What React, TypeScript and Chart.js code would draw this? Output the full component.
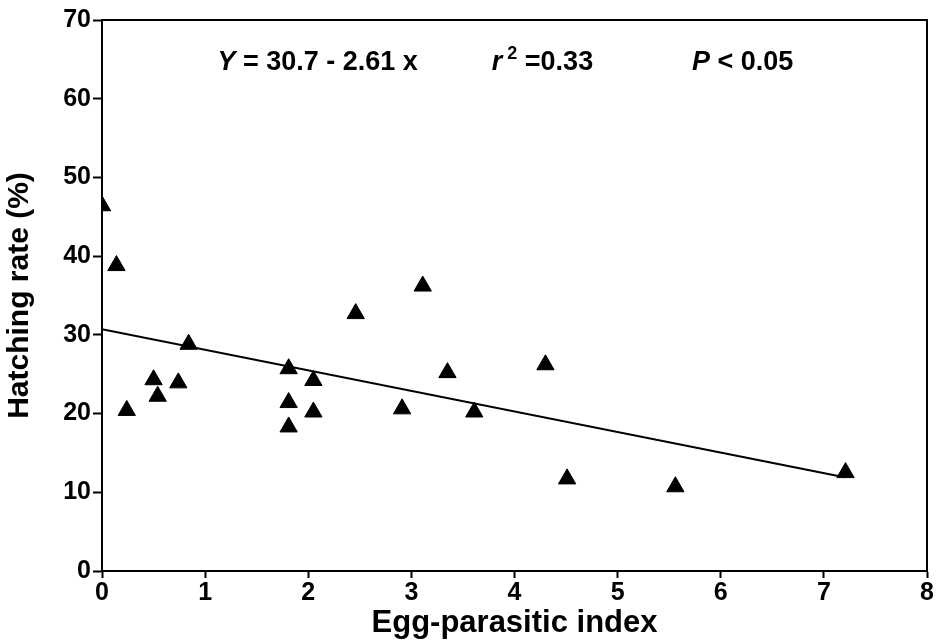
import React, { useEffect, useRef } from "react";
import { Chart, registerables } from "chart.js";

Chart.register(...registerables);

// Data
const parasiticIndex = [0, 0.14, 0.24, 0.5, 0.54, 0.74, 0.84, 1.81, 1.81, 1.81, 2.05, 2.05, 2.46, 2.91, 3.11, 3.35, 3.61, 4.3, 4.51, 5.56, 7.21];
const hatchingRate = [46.4, 38.8, 20.4, 24.3, 22.2, 23.9, 28.8, 25.7, 21.4, 18.3, 24.2, 20.2, 32.7, 20.6, 36.2, 25.2, 20.2, 26.2, 11.7, 10.7, 12.5];

// Regression: Y = 30.7 - 2.61 x
const fitIntercept = 30.7;
const fitSlope = -2.61;
const fitRangeX = [0, 7.2];

const xTicks = [0, 1, 2, 3, 4, 5, 6, 7, 8];
const yTicks = [0, 10, 20, 30, 40, 50, 60, 70];

const xTitle = "Egg-parasitic index";
const yTitle = "Hatching rate (%)";

const FONT = "'Liberation Sans', Arial, Helvetica, sans-serif";

const framePlugin = {
  id: "frame",
  afterDraw(chart: any) {
    const { ctx, chartArea, scales } = chart;
    ctx.save();
    ctx.strokeStyle = "#000";
    ctx.lineWidth = 2;
    ctx.strokeRect(chartArea.left, chartArea.top, chartArea.right - chartArea.left, chartArea.bottom - chartArea.top);

    // annotation texts
    const xs = scales.x;
    const ys = scales.y;
    const y = ys.getPixelForValue(64.6);
    ctx.fillStyle = "#000";
    ctx.textBaseline = "middle";
    ctx.textAlign = "left";
    const norm = `bold 27px ${FONT}`;
    const ital = `italic bold 27px ${FONT}`;
    const sup = `bold 18px ${FONT}`;
    const drawSeq = (x0: number, parts: { t: string; f: string; dy?: number }[]) => {
      let x = x0;
      for (const p of parts) {
        ctx.font = p.f;
        ctx.fillText(p.t, x, y + (p.dy || 0));
        x += ctx.measureText(p.t).width;
      }
    };
    drawSeq(xs.getPixelForValue(1.12), [
      { t: "Y", f: ital },
      { t: " = 30.7 - 2.61 x", f: norm },
    ]);
    drawSeq(xs.getPixelForValue(3.78), [
      { t: "r", f: ital },
      { t: " 2", f: sup, dy: -8 },
      { t: " =0.33", f: norm },
    ]);
    drawSeq(xs.getPixelForValue(5.72), [
      { t: "P", f: ital },
      { t: " < 0.05", f: norm },
    ]);
    ctx.restore();
  },
};

export default function App() {
  const ref = useRef<HTMLCanvasElement | null>(null);
  useEffect(() => {
    if (!ref.current) return;
    const points = parasiticIndex.map((x, i) => ({ x, y: hatchingRate[i] }));
    const fitLine = fitRangeX.map((x) => ({ x, y: fitIntercept + fitSlope * x }));
    const chart = new Chart(ref.current, {
      type: "scatter",
      data: {
        datasets: [
          {
            type: "line",
            data: fitLine,
            borderColor: "#000",
            borderWidth: 2,
            pointRadius: 0,
            fill: false,
            order: 2,
          } as any,
          {
            data: points,
            pointStyle: "triangle",
            pointRadius: 10,
            backgroundColor: "#000",
            borderColor: "#000",
            borderWidth: 1,
            order: 1,
          },
        ],
      },
      options: {
        animation: false,
        responsive: false,
        layout: { padding: { left: 0, right: 11, top: 20, bottom: 0 } },
        plugins: { legend: { display: false }, tooltip: { enabled: false } },
        scales: {
          x: {
            type: "linear",
            min: 0,
            max: 8,
            afterBuildTicks: (s: any) => {
              s.ticks = xTicks.map((v) => ({ value: v }));
            },
            afterFit: (s: any) => {
              s.height = 73;
            },
            grid: { drawOnChartArea: false, drawTicks: true, tickLength: 7, tickWidth: 2, tickColor: "#000" },
            border: { display: true, color: "#000", width: 2 },
            ticks: {
              color: "#000",
              padding: 0,
              maxRotation: 0,
              font: { family: FONT, size: 25, weight: "bold" },
              callback: (v: any) => String(v),
            },
            title: {
              display: true,
              text: xTitle,
              color: "#000",
              font: { family: FONT, size: 31, weight: "bold" },
              padding: { top: 0, bottom: 2 },
            },
          },
          y: {
            type: "linear",
            min: 0,
            max: 70,
            afterBuildTicks: (s: any) => {
              s.ticks = yTicks.map((v) => ({ value: v }));
            },
            afterFit: (s: any) => {
              s.width = 102;
            },
            grid: { drawOnChartArea: false, drawTicks: true, tickLength: 9, tickWidth: 2, tickColor: "#000" },
            border: { display: true, color: "#000", width: 2 },
            ticks: {
              color: "#000",
              padding: 2,
              font: { family: FONT, size: 25, weight: "bold" },
              callback: (v: any) => String(v),
            },
            title: {
              display: true,
              text: yTitle,
              color: "#000",
              font: { family: FONT, size: 30, weight: "bold" },
              padding: { top: 2, bottom: 0 },
            },
          },
        },
      },
      plugins: [framePlugin],
    });
    return () => chart.destroy();
  }, []);
  return (
    <div style={{ position: "fixed", left: 0, top: 0, width: 938, height: 644, background: "#fff" }}>
      <canvas ref={ref} width={938} height={644} style={{ display: "block" }} />
    </div>
  );
}
